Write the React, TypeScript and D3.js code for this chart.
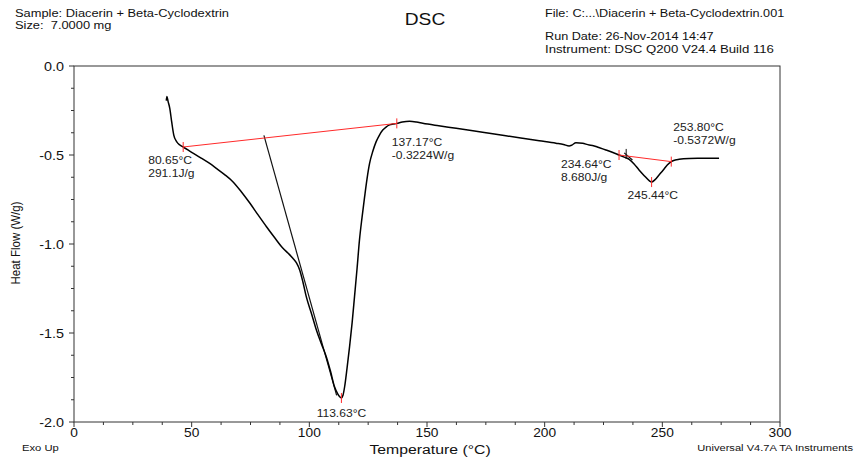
import React from 'react';
import * as d3 from 'd3';

const temperature = [
  39.2, 39.5, 40.0, 40.7, 41.5, 42.4, 43.6, 45.0, 46.4, 50.0, 53.5, 57.0, 60.5, 64.0, 67.5, 71.0,
  74.7, 78.3, 81.8, 85.3, 88.8, 91.0, 93.0, 94.6, 95.9, 97.3, 98.7, 100.9, 103.0, 105.1, 107.2,
  109.0, 110.7, 112.0, 113.0, 113.63, 114.3, 115.0, 116.0, 117.1, 118.2, 119.2, 120.3, 121.3,
  122.4, 123.5, 124.5, 125.6, 127.0, 128.4, 129.8, 131.2, 132.6, 134.1, 135.5, 137.17, 139.5,
  142.6, 145.5, 148.2, 155.0, 162.4, 169.5, 176.5, 183.5, 190.6, 197.7, 204.8, 208.0, 210.4,
  211.5, 213.3, 216.1, 218.9, 220.3, 223.0, 226.0, 229.0, 231.6, 233.8, 235.9, 238.0, 240.1,
  242.3, 244.4, 245.44, 246.8, 248.6, 250.4, 252.1, 253.8, 255.5, 257.1, 261.4, 265.0, 274.1,
];
const heatFlow = [
  -0.195, -0.172, -0.2, -0.238, -0.313, -0.388, -0.425, -0.444, -0.455, -0.485, -0.513, -0.542,
  -0.575, -0.61, -0.65, -0.705, -0.77, -0.838, -0.903, -0.965, -1.024, -1.052, -1.08, -1.108,
  -1.146, -1.215, -1.296, -1.39, -1.483, -1.56, -1.633, -1.715, -1.802, -1.84, -1.86, -1.865,
  -1.85, -1.802, -1.7, -1.577, -1.44, -1.296, -1.135, -0.978, -0.85, -0.734, -0.635, -0.547,
  -0.478, -0.425, -0.388, -0.36, -0.343, -0.331, -0.326, -0.3224, -0.315, -0.311, -0.315,
  -0.322, -0.336, -0.35, -0.364, -0.378, -0.392, -0.406, -0.42, -0.434, -0.441, -0.449, -0.445,
  -0.431, -0.434, -0.444, -0.446, -0.458, -0.472, -0.486, -0.5, -0.512, -0.524, -0.55, -0.584,
  -0.616, -0.644, -0.652, -0.64, -0.612, -0.584, -0.556, -0.5372, -0.528, -0.524, -0.519,
  -0.518, -0.518,
];

// integration baselines (red) and onset tangents (black)
const baseline1 = [[46.4, -0.455], [137.17, -0.3224]];
const baseline2 = [[231.6, -0.5], [253.8, -0.5372]];
const tangent1 = [[80.7, -0.39], [111.6, -1.85]];
const tangent2 = [[233.8, -0.488], [237.3, -0.528]];
const redMarkers = [[46.4, -0.455], [137.17, -0.3224], [113.63, -1.865], [231.6, -0.5], [245.44, -0.652], [253.8, -0.5372]];
const blackMarkers = [[234.64, -0.494]];

const xTicks = [0, 50, 100, 150, 200, 250, 300];
const xTickLabels = ['0', '50', '100', '150', '200', '250', '300'];
const yTicks = [0, -0.5, -1, -1.5, -2];
const yTickLabels = ['0.0', '-0.5', '-1.0', '-1.5', '-2.0'];

const annotations = [
  { t: 46.4, hf: -0.455, lines: ['80.65°C', '291.1J/g'] },
  { t: 137.17, hf: -0.3224, lines: ['137.17°C', '-0.3224W/g'] },
  { t: 113.63, hf: -1.865, lines: ['113.63°C'] },
  { t: 231.6, hf: -0.5, lines: ['234.64°C', '8.680J/g'] },
  { t: 245.44, hf: -0.652, lines: ['245.44°C'] },
  { t: 253.8, hf: -0.5372, lines: ['253.80°C', '-0.5372W/g'] },
];
// label offsets relative to each annotated point (pixels)
const annotationOffsets = [
  { dx: -35, dy: 17, anchor: 'start' },
  { dx: -5, dy: 23, anchor: 'start' },
  { dx: 0, dy: 19, anchor: 'middle' },
  { dx: -58, dy: 13, anchor: 'start' },
  { dx: -24, dy: 17, anchor: 'start' },
  { dx: 2, dy: -31, anchor: 'start' },
];

const FONT = "'Liberation Sans', Arial, Helvetica, sans-serif";

function Txt({ x, y, size, anchor = 'start', sx = 1, fill = '#111', children }: any) {
  return (
    <text transform={`translate(${x},${y}) scale(${sx},1)`} fontSize={size} textAnchor={anchor} fill={fill} style={{ whiteSpace: 'pre' }}>
      {children}
    </text>
  );
}

export default function App() {
  const W = 854, H = 459;
  const left = 74, right = 780, top = 66, bottom = 422;
  const x = d3.scaleLinear().domain([0, 300]).range([left, right]);
  const y = d3.scaleLinear().domain([-2, 0]).range([bottom, top]);

  const pts = temperature.map((t, i) => [t, heatFlow[i]] as [number, number]);
  const line = d3.line<[number, number]>().x(d => x(d[0])).y(d => y(d[1])).curve(d3.curveMonotoneX);
  const seg = d3.line<number[]>().x(d => x(d[0])).y(d => y(d[1]));

  const xMinor = d3.range(0, 300.01, 12.5);
  const yMinor = d3.range(0, 16.01, 1).map(i => -i * 0.125);

  const axisColor = '#333';
  const red = '#ff2a2a';

  return (
    <svg width={W} height={H} style={{ position: 'absolute', left: 0, top: 0, background: '#fff' }} fontFamily={FONT}>
      <rect x={0} y={0} width={W} height={H} fill="#fff" />
      {/* header */}
      <Txt x={15} y={17} size={11.5} sx={1.12}>Sample: Diacerin + Beta-Cyclodextrin</Txt>
      <Txt x={15} y={29} size={11.5} sx={1.12}>{'Size:  7.0000 mg'}</Txt>
      <Txt x={425} y={25} size={16} sx={1.2} anchor="middle">DSC</Txt>
      <Txt x={545} y={17} size={11.5} sx={1.1}>File: C:...\Diacerin + Beta-Cyclodextrin.001</Txt>
      <Txt x={545} y={39.5} size={11} sx={1.15}>Run Date: 26-Nov-2014 14:47</Txt>
      <Txt x={545} y={52.5} size={11} sx={1.2}>Instrument: DSC Q200 V24.4 Build 116</Txt>

      {/* frame */}
      <rect x={left} y={top} width={right - left} height={bottom - top} fill="none" stroke={axisColor} strokeWidth={1} />

      {/* x ticks */}
      {xMinor.map(v => (
        <line key={'xm' + v} x1={x(v)} x2={x(v)} y1={bottom} y2={bottom + (v % 50 === 0 ? 5 : 3)} stroke={axisColor} />
      ))}
      {xTicks.map((v, i) => (
        <Txt key={'xt' + v} x={x(v)} y={bottom + 15} size={12.5} sx={1.1} anchor="middle">{xTickLabels[i]}</Txt>
      ))}
      {/* y ticks */}
      {yMinor.map((v, i) => (
        <line key={'ym' + i} x1={left} x2={left - (i % 4 === 0 ? 5 : 3)} y1={y(v)} y2={y(v)} stroke={axisColor} />
      ))}
      {yTicks.map((v, i) => (
        <Txt key={'yt' + v} x={left - 10} y={y(v) + 4.5} size={12.5} sx={1.15} anchor="end">{yTickLabels[i]}</Txt>
      ))}

      {/* axis titles */}
      <Txt x={430} y={454} size={13.5} sx={1.17} anchor="middle">Temperature (°C)</Txt>
      <text transform={`translate(20,243) rotate(-90) scale(1,1.15)`} fontSize={11.5} textAnchor="middle" fill="#111">Heat Flow (W/g)</text>
      <Txt x={22} y={451} size={9.5} sx={1.18}>Exo Up</Txt>
      <Txt x={853} y={451} size={9.5} sx={1.17} anchor="end">Universal V4.7A TA Instruments</Txt>

      {/* tangents */}
      <path d={seg(tangent1) || ''} fill="none" stroke="#111" strokeWidth={1.2} />
      <path d={seg(tangent2) || ''} fill="none" stroke="#111" strokeWidth={1.2} />
      {/* curve */}
      <path d={line(pts) || ''} fill="none" stroke="#000" strokeWidth={1.5} strokeLinejoin="round" />
      {/* baselines */}
      <path d={seg(baseline1) || ''} fill="none" stroke={red} strokeWidth={1} />
      <path d={seg(baseline2) || ''} fill="none" stroke={red} strokeWidth={1} />
      {redMarkers.map((m, i) => (
        <line key={'rm' + i} x1={x(m[0])} x2={x(m[0])} y1={y(m[1]) - 5} y2={y(m[1]) + 5} stroke={red} strokeWidth={1} />
      ))}
      {blackMarkers.map((m, i) => (
        <line key={'bm' + i} x1={x(m[0])} x2={x(m[0])} y1={y(m[1]) - 5} y2={y(m[1]) + 5} stroke="#111" strokeWidth={1} />
      ))}

      {/* annotations */}
      {annotations.map((a, i) => {
        const o = annotationOffsets[i];
        return a.lines.map((l, j) => (
          <Txt key={'an' + i + '_' + j} x={x(a.t) + o.dx} y={y(a.hf) + o.dy + j * 13} size={11.5} sx={1.05} anchor={o.anchor} fill="#222">
            {l}
          </Txt>
        ));
      })}
    </svg>
  );
}
